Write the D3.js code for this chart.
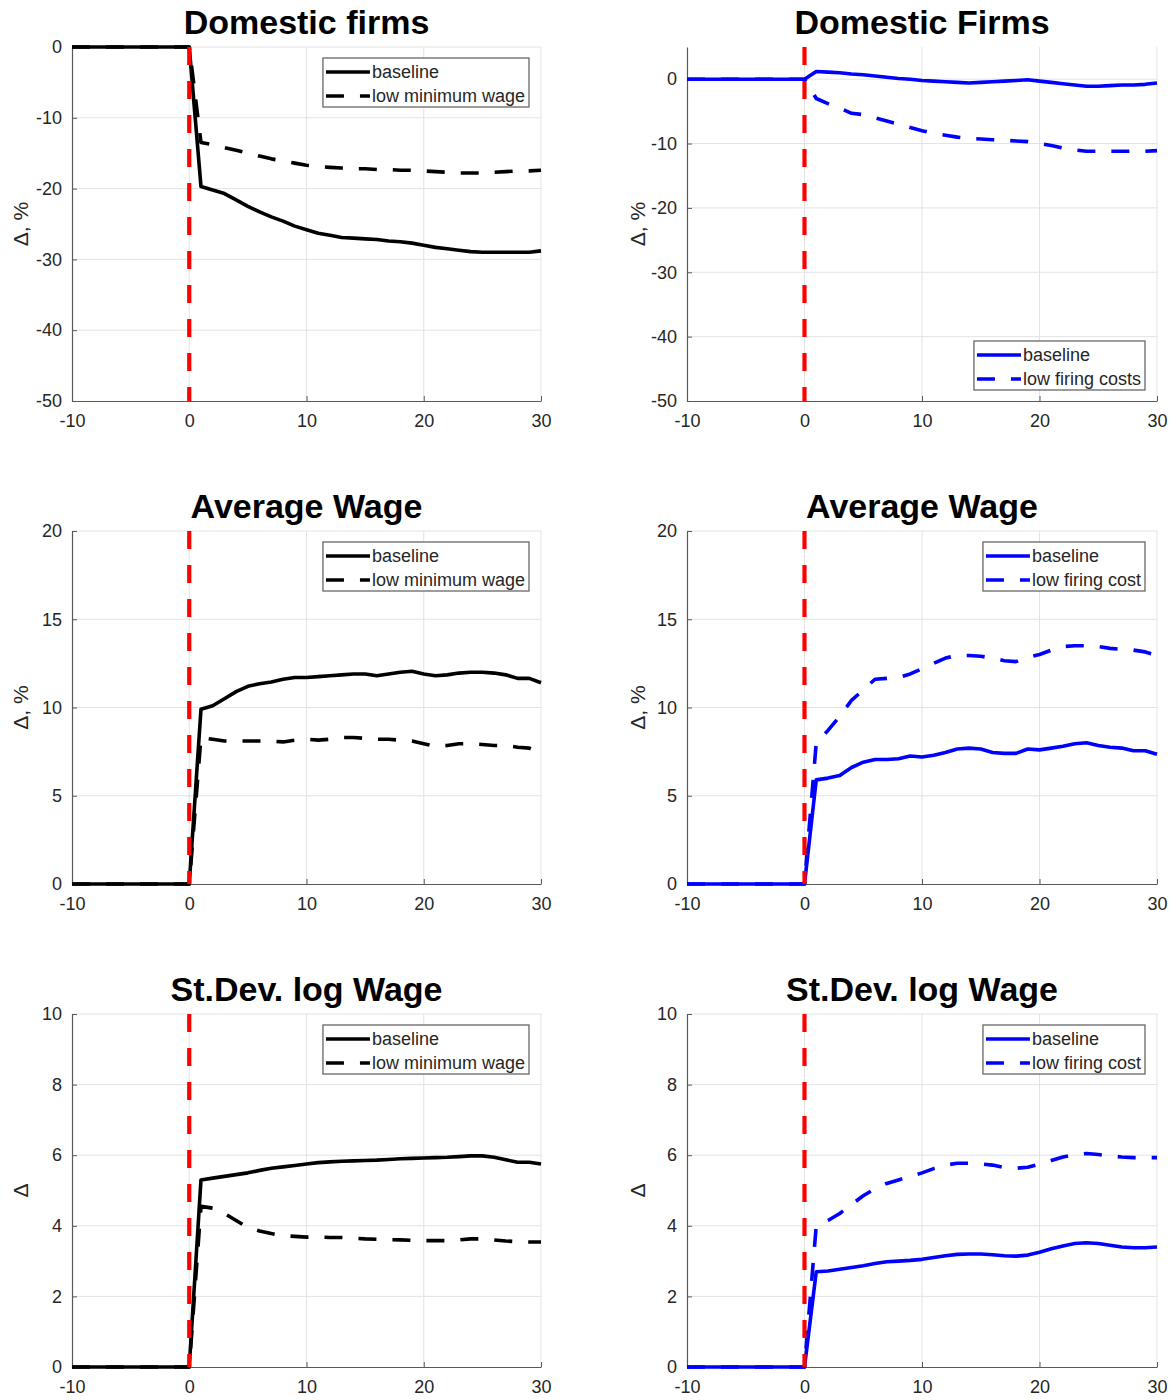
<!DOCTYPE html>
<html>
<head>
<meta charset="utf-8">
<script src="https://cdn.jsdelivr.net/npm/d3@7"></script>
<style>
  html, body { margin: 0; padding: 0; background: #fff; }
  svg { display: block; font-family: "Liberation Sans", Arial, Helvetica, sans-serif; }
</style>
</head>
<body>
<svg id="chart" width="1176" height="1400"></svg>
<script>
// Periods relative to the reform (t = 0)
const periods = [-10,-9,-8,-7,-6,-5,-4,-3,-2,-1,0,1,2,3,4,5,6,7,8,9,10,11,12,13,14,15,16,17,18,19,20,21,22,23,24,25,26,27,28,29,30];
const xTicks = [-10, 0, 10, 20, 30];

// Domestic firms (Δ, %)
const firmsBaseMW = [0,0,0,0,0,0,0,0,0,0,0,-19.7,-20.2,-20.7,-21.6,-22.5,-23.3,-24.0,-24.6,-25.3,-25.8,-26.3,-26.6,-26.9,-27.0,-27.1,-27.2,-27.4,-27.5,-27.7,-28.0,-28.3,-28.5,-28.7,-28.9,-29.0,-29.0,-29.0,-29.0,-29.0,-28.8];
const firmsLowMW  = [0,0,0,0,0,0,0,0,0,0,0,-13.5,-13.8,-14.2,-14.6,-15.0,-15.4,-15.8,-16.1,-16.4,-16.7,-16.9,-17.0,-17.1,-17.2,-17.2,-17.3,-17.3,-17.4,-17.4,-17.5,-17.6,-17.7,-17.8,-17.8,-17.8,-17.7,-17.6,-17.5,-17.5,-17.4];
const firmsBaseFC = [0,0,0,0,0,0,0,0,0,0,0,1.2,1.1,1.0,0.8,0.7,0.5,0.3,0.1,0.0,-0.2,-0.3,-0.4,-0.5,-0.6,-0.5,-0.4,-0.3,-0.2,-0.1,-0.3,-0.5,-0.7,-0.9,-1.1,-1.1,-1.0,-0.9,-0.9,-0.8,-0.6];
const firmsLowFC  = [0,0,0,0,0,0,0,0,0,0,0,-3.0,-3.8,-4.5,-5.3,-5.5,-6.0,-6.5,-7.0,-7.5,-8.0,-8.4,-8.7,-9.0,-9.2,-9.3,-9.4,-9.5,-9.6,-9.7,-10.0,-10.3,-10.7,-11.0,-11.2,-11.2,-11.2,-11.2,-11.2,-11.2,-11.1];

// Average wage (Δ, %)
const wageBaseMW = [0,0,0,0,0,0,0,0,0,0,0,9.9,10.1,10.5,10.9,11.2,11.35,11.45,11.6,11.7,11.7,11.75,11.8,11.85,11.9,11.9,11.8,11.9,12.0,12.05,11.9,11.8,11.85,11.95,12.0,12.0,11.95,11.85,11.65,11.65,11.4];
const wageLowMW  = [0,0,0,0,0,0,0,0,0,0,0,8.3,8.2,8.1,8.1,8.1,8.1,8.1,8.05,8.15,8.2,8.15,8.2,8.3,8.3,8.25,8.2,8.2,8.15,8.1,7.95,7.8,7.85,7.95,7.95,7.9,7.85,7.85,7.75,7.7,7.4];
const wageBaseFC = [0,0,0,0,0,0,0,0,0,0,0,5.9,6.0,6.15,6.6,6.9,7.05,7.05,7.1,7.25,7.2,7.3,7.45,7.65,7.7,7.65,7.45,7.4,7.4,7.65,7.6,7.7,7.8,7.95,8.0,7.85,7.75,7.7,7.55,7.55,7.35];
const wageLowFC  = [0,0,0,0,0,0,0,0,0,0,0,8.0,8.7,9.5,10.4,11.0,11.6,11.65,11.7,11.9,12.2,12.5,12.8,12.95,12.95,12.9,12.8,12.65,12.6,12.85,13.0,13.25,13.45,13.5,13.5,13.45,13.35,13.3,13.25,13.15,12.95];

// St.Dev. of log wage (Δ)
const sdBaseMW = [0,0,0,0,0,0,0,0,0,0,0,5.3,5.35,5.4,5.45,5.5,5.57,5.63,5.67,5.71,5.75,5.79,5.81,5.83,5.84,5.85,5.86,5.88,5.9,5.91,5.92,5.93,5.94,5.96,5.98,5.98,5.94,5.87,5.8,5.8,5.75];
const sdLowMW  = [0,0,0,0,0,0,0,0,0,0,0,4.55,4.5,4.35,4.15,3.95,3.85,3.78,3.72,3.7,3.68,3.68,3.67,3.67,3.65,3.63,3.62,3.61,3.6,3.59,3.58,3.58,3.58,3.6,3.63,3.63,3.6,3.57,3.55,3.54,3.54];
const sdBaseFC = [0,0,0,0,0,0,0,0,0,0,0,2.7,2.72,2.77,2.82,2.87,2.93,2.98,3.0,3.02,3.05,3.1,3.15,3.19,3.2,3.2,3.18,3.15,3.14,3.17,3.25,3.35,3.43,3.5,3.52,3.5,3.45,3.4,3.38,3.38,3.4];
const sdLowFC  = [0,0,0,0,0,0,0,0,0,0,0,4.0,4.15,4.35,4.6,4.85,5.05,5.2,5.3,5.4,5.5,5.62,5.72,5.77,5.77,5.75,5.72,5.65,5.63,5.66,5.75,5.85,5.95,6.02,6.05,6.02,5.98,5.95,5.93,5.93,5.93];

const titles = ["Domestic firms", "Domestic Firms", "Average Wage", "Average Wage", "St.Dev. log Wage", "St.Dev. log Wage"];
const yDomains = [[-50, 0], [-50, 5], [0, 20], [0, 20], [0, 10], [0, 10]];
const yTickSets = [[-50,-40,-30,-20,-10,0], [-50,-40,-30,-20,-10,0], [0,5,10,15,20], [0,5,10,15,20], [0,2,4,6,8,10], [0,2,4,6,8,10]];
const yLabels = ["Δ, %", "Δ, %", "Δ, %", "Δ, %", "Δ", "Δ"];
const legendMW = ["baseline", "low minimum wage"];
const legendFC1 = ["baseline", "low firing costs"];
const legendFC2 = ["baseline", "low firing cost"];

// Panel layout: columns and rows of the 3x2 grid
const cols = [{ left: 72, right: 541 }, { left: 687, right: 1157 }];
const rows = [{ top: 47, bottom: 401 }, { top: 531, bottom: 884 }, { top: 1014, bottom: 1367 }];

const panels = [
  { title: titles[0], dom: yDomains[0], ticks: yTickSets[0], ylab: yLabels[0], base: firmsBaseMW, alt: firmsLowMW, color: "#000000", legend: legendMW, legPos: "top", col: 0, row: 0 },
  { title: titles[1], dom: yDomains[1], ticks: yTickSets[1], ylab: yLabels[1], base: firmsBaseFC, alt: firmsLowFC, color: "#0000ff", legend: legendFC1, legPos: "bottom", col: 1, row: 0 },
  { title: titles[2], dom: yDomains[2], ticks: yTickSets[2], ylab: yLabels[2], base: wageBaseMW, alt: wageLowMW, color: "#000000", legend: legendMW, legPos: "top", col: 0, row: 1 },
  { title: titles[3], dom: yDomains[3], ticks: yTickSets[3], ylab: yLabels[3], base: wageBaseFC, alt: wageLowFC, color: "#0000ff", legend: legendFC2, legPos: "top", col: 1, row: 1 },
  { title: titles[4], dom: yDomains[4], ticks: yTickSets[4], ylab: yLabels[4], base: sdBaseMW, alt: sdLowMW, color: "#000000", legend: legendMW, legPos: "top", col: 0, row: 2 },
  { title: titles[5], dom: yDomains[5], ticks: yTickSets[5], ylab: yLabels[5], base: sdBaseFC, alt: sdLowFC, color: "#0000ff", legend: legendFC2, legPos: "top", col: 1, row: 2 }
];

const svg = d3.select("#chart");
const textColor = "#262626";
const axisColor = "#595959";
const gridColor = "#e3e3e3";
const dashPattern = "18,16";
const plainNum = d => String(d);

panels.forEach((p, i) => {
  const c = cols[p.col], r = rows[p.row];
  const x = d3.scaleLinear().domain([-10, 30]).range([c.left, c.right]);
  const y = d3.scaleLinear().domain(p.dom).range([r.bottom, r.top]);
  const g = svg.append("g");

  // grid
  g.append("g").selectAll("line").data(xTicks.filter(t => t !== -10)).join("line")
    .attr("x1", d => x(d)).attr("x2", d => x(d))
    .attr("y1", r.top).attr("y2", r.bottom)
    .attr("stroke", gridColor).attr("stroke-width", 1);
  g.append("g").selectAll("line").data(p.ticks.filter(t => t !== p.dom[0])).join("line")
    .attr("x1", c.left).attr("x2", c.right)
    .attr("y1", d => y(d)).attr("y2", d => y(d))
    .attr("stroke", gridColor).attr("stroke-width", 1);

  // axes (inward ticks)
  const xAxis = d3.axisBottom(x).tickValues(xTicks).tickFormat(plainNum).tickSizeInner(-5).tickSizeOuter(0).tickPadding(13);
  const yAxis = d3.axisLeft(y).tickValues(p.ticks).tickFormat(plainNum).tickSizeInner(-5).tickSizeOuter(0).tickPadding(10);
  const gx = g.append("g").attr("transform", `translate(0,${r.bottom})`).call(xAxis);
  const gy = g.append("g").attr("transform", `translate(${c.left},0)`).call(yAxis);
  [gx, gy].forEach(a => {
    a.select(".domain").attr("stroke", axisColor).attr("stroke-width", 1.2);
    a.selectAll(".tick line").attr("stroke", axisColor);
    a.selectAll(".tick text").attr("fill", textColor).style("font-size", "18px")
      .style("font-family", "'Liberation Sans', Arial, sans-serif");
  });

  // data lines
  const line = d3.line().x((d, k) => x(periods[k])).y(d => y(d));
  g.append("path").datum(p.base).attr("d", line)
    .attr("fill", "none").attr("stroke", p.color).attr("stroke-width", 3.6)
    .attr("stroke-linejoin", "round");
  g.append("path").datum(p.alt).attr("d", line)
    .attr("fill", "none").attr("stroke", p.color).attr("stroke-width", 3.6)
    .attr("stroke-dasharray", dashPattern).attr("stroke-linejoin", "round");

  // reform date marker
  g.append("line")
    .attr("x1", x(0)).attr("x2", x(0)).attr("y1", r.top).attr("y2", r.bottom)
    .attr("stroke", "#ff0000").attr("stroke-width", 4.2).attr("stroke-dasharray", dashPattern);

  // title
  g.append("text").attr("x", (c.left + c.right) / 2).attr("y", r.top - 13)
    .attr("text-anchor", "middle").attr("fill", "#000")
    .style("font-size", "34px").style("font-weight", "bold").text(p.title);

  // y label
  const ylx = p.col === 0 ? 28 : 645;
  g.append("text").attr("transform", `translate(${ylx},${(r.top + r.bottom) / 2}) rotate(-90)`)
    .attr("text-anchor", "middle").attr("fill", textColor)
    .style("font-size", "21px").text(p.ylab);

  // legend
  const lg = g.append("g");
  const labels = lg.selectAll("text").data(p.legend).join("text")
    .attr("fill", textColor).style("font-size", "18px").text(d => d);
  let tw = 0;
  labels.each(function () { tw = Math.max(tw, this.getComputedTextLength()); });
  const boxW = tw + 53, boxH = 49;
  const bx = c.right - 12 - boxW;
  const by = p.legPos === "top" ? r.top + 11 : r.bottom - 11 - boxH;
  lg.insert("rect", "text").attr("x", bx).attr("y", by).attr("width", boxW).attr("height", boxH)
    .attr("fill", "#fff").attr("stroke", "#5a5a5a").attr("stroke-width", 1.2);
  labels.attr("x", bx + 49).attr("y", (d, k) => by + 20 + k * 24);
  lg.selectAll("line").data(p.legend).join("line")
    .attr("x1", bx + 3).attr("x2", bx + 47)
    .attr("y1", (d, k) => by + 14 + k * 24).attr("y2", (d, k) => by + 14 + k * 24)
    .attr("stroke", p.color).attr("stroke-width", 3.6)
    .attr("stroke-dasharray", (d, k) => k === 1 ? dashPattern : null);
});
</script>
</body>
</html>
